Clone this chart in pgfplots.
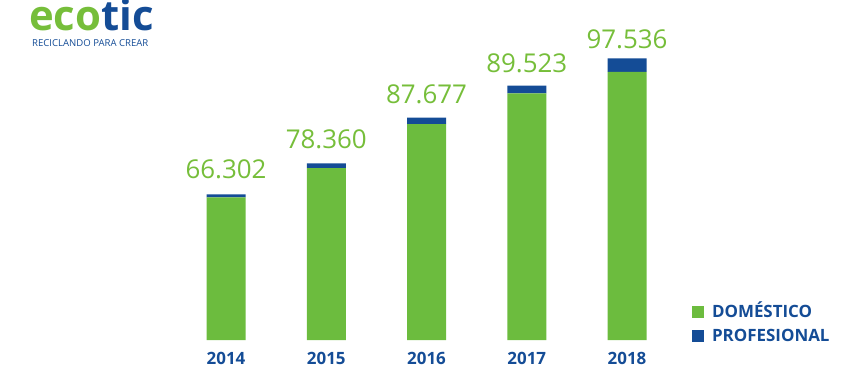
\documentclass[border=0pt]{standalone}
\usepackage{pgfplots}
\pgfplotsset{compat=1.18}
\usepackage{pgfplotstable}
\usepackage{fontspec}
\setmainfont{Open Sans}
\definecolor{ecogreen}{RGB}{118,190,58}
\definecolor{bargreen}{RGB}{108,188,62}
\definecolor{ecoblue}{RGB}{20,76,150}
\pgfplotstableread{
idx dom prof label
0 142.7 3.0 66.302
1 172.0 4.7 78.360
2 216.0 6.3 87.677
3 246.7 7.6 89.523
4 268.0 13.7 97.536
}\datatable
\begin{document}
\begin{tikzpicture}[x=1bp,y=1bp]
\useasboundingbox (0,0) rectangle (860,382);
\node[anchor=base west, inner sep=0pt, text depth=0pt, font=\fontsize{42}{42}\selectfont\bfseries] at (29,351.5) {\textcolor{ecogreen}{eco}\textcolor{ecoblue}{tic}};
\node[anchor=base west, inner sep=0pt, text height=6.5bp, text depth=0pt, font=\fontsize{9.6}{9.6}\selectfont, text=ecoblue] at (32,335.5) {RECICLANDO PARA CREAR};
\begin{axis}[
  at={(125.75bp,42bp)}, anchor=south west,
  scale only axis, width=601.5bp, height=300bp,
  xmin=-1, xmax=5, ymin=0, ymax=300,
  ybar stacked, bar width=39bp,
  axis line style={draw=none},
  tick style={draw=none},
  ytick=\empty,
  xtick={0,1,2,3,4},
  xticklabels={2014,2015,2016,2017,2018},
  xticklabel style={anchor=base, inner sep=0pt, yshift=-24bp,
    font=\fontsize{17}{17}\selectfont\bfseries, text=ecoblue},
  legend style={at={(0.9414,0.1143)}, anchor=north west, draw=none, fill=none,
    inner sep=0pt, outer sep=0pt, row sep=12bp, column sep=8bp,
    nodes={inner sep=0pt, text height=11bp, text depth=0pt,
      font=\fontsize{17}{17}\selectfont\bfseries, text=ecoblue},
    cells={anchor=base west}},
  legend image code/.code={\fill[#1] (0bp,0bp) rectangle (12bp,12bp);},
]
\addplot+[draw=none, fill=bargreen] table[x=idx, y=dom] {\datatable};
\addlegendentry{DOMÉSTICO}
\addplot+[draw=none, fill=ecoblue,
  nodes near coords, point meta=explicit symbolic,
  every node near coord/.append style={anchor=base, inner sep=0pt, yshift=17bp,
    font=\fontsize{26}{26}\selectfont, text=ecogreen}]
  table[x=idx, y=prof, meta=label] {\datatable};
\addlegendentry{PROFESIONAL}
\end{axis}
\end{tikzpicture}
\end{document}
